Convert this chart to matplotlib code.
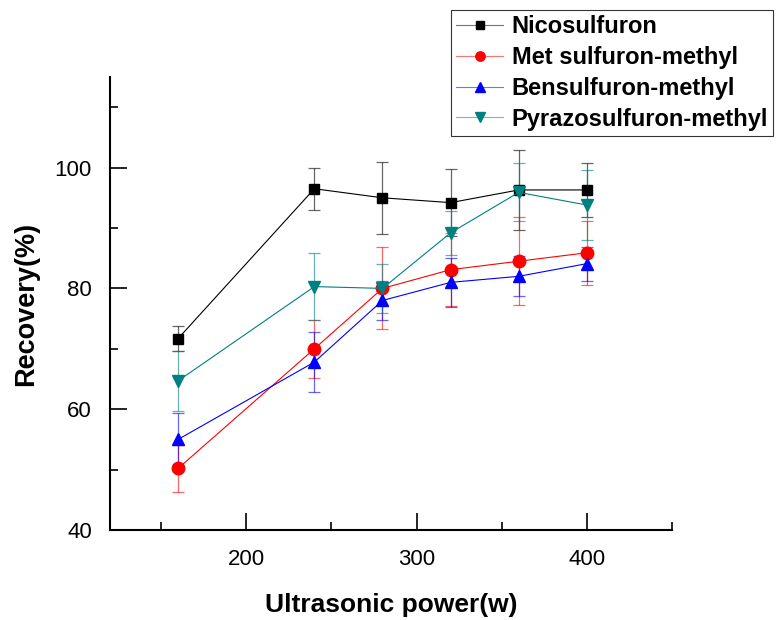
import matplotlib
matplotlib.use("Agg")
import matplotlib.pyplot as plt
from matplotlib.ticker import MultipleLocator
from matplotlib.colors import to_rgba

plt.rcParams['font.family'] = ['Liberation Sans', 'DejaVu Sans']

power = [160, 240, 280, 320, 360, 400]
series_names = ["Nicosulfuron", "Met sulfuron-methyl", "Bensulfuron-methyl", "Pyrazosulfuron-methyl"]
nico = [71.7, 96.5, 95.0, 94.2, 96.3, 96.3]
nico_err = [2.0, 3.5, 6.0, 5.6, 6.6, 4.5]
met = [50.2, 70.0, 80.0, 83.1, 84.5, 85.9]
met_err = [3.9, 4.8, 6.8, 6.0, 7.3, 5.3]
ben = [55.0, 67.8, 78.0, 81.0, 82.0, 84.1]
ben_err = [4.3, 5.0, 3.3, 4.1, 3.3, 2.8]
pyr = [64.7, 80.3, 80.0, 89.2, 95.9, 93.8]
pyr_err = [5.0, 5.6, 4.0, 3.6, 4.8, 5.8]

colors = ["black", "red", "blue", "#008080"]
markers = ["s", "o", "^", "v"]
sizes = [7.5, 9, 9, 9]

fig = plt.figure(figsize=(7.77, 6.2), dpi=100)
ax = fig.add_axes([110/777, 90/620, (672-110)/777, (530-77)/620])

handles = []
for vals, errs, c, m, ms, name in zip([nico, met, ben, pyr], [nico_err, met_err, ben_err, pyr_err],
                                     colors, markers, sizes, series_names):
    ax.errorbar(power, vals, yerr=errs, fmt='none', ecolor=c, elinewidth=0.9, capsize=4,
                capthick=0.9, alpha=0.6, zorder=2)
    h, = ax.plot(power, vals, color=c, linewidth=0.8, marker=m, markersize=ms,
                 markerfacecolor=c, markeredgecolor=c, label=name, zorder=3)
    handles.append(h)

ax.set_xlim(120, 450)
ax.set_ylim(40, 115)
ax.xaxis.set_major_locator(MultipleLocator(100))
ax.xaxis.set_minor_locator(MultipleLocator(50))
ax.yaxis.set_major_locator(MultipleLocator(20))
ax.yaxis.set_minor_locator(MultipleLocator(10))
ax.tick_params(which='major', direction='in', length=12, width=1.2, labelsize=16)
ax.tick_params(which='minor', direction='in', length=6, width=1.2)
ax.tick_params(axis='x', pad=14)
ax.tick_params(axis='y', pad=13)
for s in ['top', 'right']:
    ax.spines[s].set_visible(False)
for s in ['left', 'bottom']:
    ax.spines[s].set_linewidth(1.5)

ax.set_xlabel("Ultrasonic power(w)", fontsize=19, fontweight='bold', labelpad=16)
ax.set_ylabel("Recovery(%)", fontsize=19.5, fontweight='bold', labelpad=11)

leg = fig.legend(handles=handles, loc='upper left', bbox_to_anchor=(451/777, 1 - 10/620),
                 prop={'weight': 'bold', 'size': 17}, frameon=True, fancybox=False,
                 edgecolor='black', handlelength=2.0, borderpad=0.22, labelspacing=0.33,
                 handletextpad=0.35, borderaxespad=0, markerscale=0.75)
leg.get_frame().set_linewidth(0.8)
for lh, c in zip(leg.get_lines(), colors):
    lh.set_color(to_rgba(c, 0.55))

fig.savefig("out.png", dpi=100)
